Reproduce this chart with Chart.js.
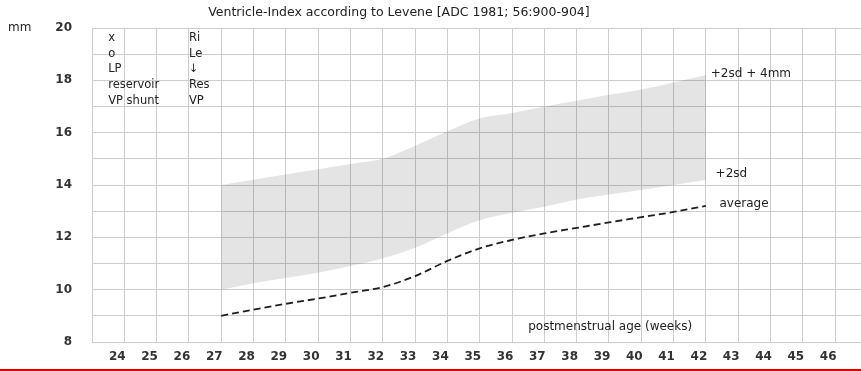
<!DOCTYPE html>
<html>
<head>
<meta charset="utf-8">
<script src="https://cdn.jsdelivr.net/npm/chart.js@4.4.1/dist/chart.umd.min.js"></script>
<style>
  html, body { margin: 0; padding: 0; background: #fff; }
  #wrap { width: 861px; height: 371px; position: relative; }
</style>
</head>
<body>
<div id="wrap"><canvas id="chart" width="861" height="371"></canvas></div>
<script>
// Ventricular index reference curves (Levene), postmenstrual weeks 27-42
const weeks          = [27, 28, 29, 30, 31, 32, 33, 34, 35, 36, 37, 38, 39, 40, 41, 42];
const plus2sdPlus4mm = [14.0, 14.2, 14.4, 14.6, 14.8, 15.0, 15.5, 16.05, 16.55, 16.75, 17.0, 17.22, 17.45, 17.65, 17.92, 18.2];
const plus2sd        = [10.0, 10.25, 10.45, 10.65, 10.9, 11.2, 11.6, 12.15, 12.65, 12.94, 13.17, 13.45, 13.64, 13.81, 14.0, 14.19];
const average        = [9.0, 9.24, 9.46, 9.66, 9.88, 10.1, 10.52, 11.1, 11.58, 11.9, 12.15, 12.36, 12.57, 12.77, 12.97, 13.2];

// axis ticks
const xTickLabels = [24, 25, 26, 27, 28, 29, 30, 31, 32, 33, 34, 35, 36, 37, 38, 39, 40, 41, 42, 43, 44, 45, 46];
const yTickLabels = [8, 10, 12, 14, 16, 18, 20];

// legend notes in the upper-left corner
const notesLeft  = ['x', 'o', 'LP', 'reservoir', 'VP shunt'];
const notesRight = ['Ri', 'Le', '\u2193', 'Res', 'VP'];

const TITLE = 'Ventricle-Index according to Levene [ADC 1981; 56:900-904]';
const FONT = '"DejaVu Sans", sans-serif';
const INK = '#222';
const GRID = '#cdcdcd';

const toPoints = ys => weeks.map((w, i) => ({ x: w, y: ys[i] }));

const textLayer = {
  id: 'textLayer',
  afterDraw(chart) {
    const { ctx, scales: { x, y }, chartArea } = chart;
    ctx.save();
    ctx.fillStyle = INK;
    ctx.textBaseline = 'middle';

    // title
    ctx.font = '12.5px ' + FONT;
    ctx.textAlign = 'center';
    ctx.fillText(TITLE, x.getPixelForValue(32.5), chartArea.top - 15);

    // unit
    ctx.textAlign = 'left';
    ctx.font = '12px ' + FONT;
    ctx.fillText('mm', 8, chartArea.top);

    // curve labels
    ctx.font = '12px ' + FONT;
    ctx.fillText('+2sd + 4mm', x.getPixelForValue(42.15), y.getPixelForValue(18.25));
    ctx.fillText('+2sd', x.getPixelForValue(42.3), y.getPixelForValue(14.42));
    ctx.fillText('average', x.getPixelForValue(42.42), y.getPixelForValue(13.27));
    ctx.fillText('postmenstrual age (weeks)', x.getPixelForValue(36.5), y.getPixelForValue(8.57));

    // corner notes
    ctx.font = '11.5px ' + FONT;
    const top = y.getPixelForValue(19.62);
    const step = 15.7;
    notesLeft.forEach((t, i) => ctx.fillText(t, x.getPixelForValue(23.5), top + i * step));
    notesRight.forEach((t, i) => ctx.fillText(t, x.getPixelForValue(26.0), top + i * step));

    // red rule along the bottom edge
    ctx.fillStyle = '#e30000';
    ctx.fillRect(0, chart.height - 2, chart.width, 2);
    ctx.restore();
  }
};

new Chart(document.getElementById('chart'), {
  type: 'line',
  data: {
    datasets: [
      {
        label: '+2sd',
        data: toPoints(plus2sd),
        borderWidth: 0,
        borderColor: 'rgba(0,0,0,0)',
        pointRadius: 0,
        fill: false,
        cubicInterpolationMode: 'monotone'
      },
      {
        label: '+2sd + 4mm',
        data: toPoints(plus2sdPlus4mm),
        borderWidth: 0,
        borderColor: 'rgba(0,0,0,0)',
        backgroundColor: 'rgba(0,0,0,0.105)',
        pointRadius: 0,
        fill: '-1',
        cubicInterpolationMode: 'monotone'
      },
      {
        label: 'average',
        data: toPoints(average),
        borderColor: '#1e1e1e',
        borderWidth: 1.8,
        borderDash: [7, 4],
        pointRadius: 0,
        fill: false,
        cubicInterpolationMode: 'monotone'
      }
    ]
  },
  options: {
    responsive: false,
    animation: false,
    events: [],
    layout: { padding: { top: 28, right: 0, bottom: 0, left: 0 } },
    plugins: {
      legend: { display: false },
      tooltip: { enabled: false },
      title: { display: false }
    },
    scales: {
      x: {
        type: 'linear',
        min: 23,
        max: 46.8,
        afterBuildTicks(scale) {
          scale.ticks = [{ value: 23 }].concat(xTickLabels.map(v => ({ value: v })));
        },
        afterFit(scale) { scale.height = 29; },
        grid: { color: GRID, lineWidth: 1, drawTicks: false },
        border: { color: GRID, width: 1 },
        ticks: {
          autoSkip: false,
          maxRotation: 0,
          padding: 8,
          labelOffset: -7,
          color: '#333',
          font: { family: FONT, size: 12, weight: 'bold' },
          callback: v => (xTickLabels.includes(v) ? String(v) : '')
        }
      },
      y: {
        type: 'linear',
        min: 8,
        max: 20,
        afterFit(scale) { scale.width = 92; },
        grid: { color: GRID, lineWidth: 1, drawTicks: false },
        border: { color: GRID, width: 1 },
        ticks: {
          stepSize: 1,
          autoSkip: false,
          padding: 20,
          color: '#333',
          font: { family: FONT, size: 12, weight: 'bold' },
          callback: v => (yTickLabels.includes(v) ? String(v) : '')
        }
      }
    }
  },
  plugins: [textLayer]
});
</script>
</body>
</html>
